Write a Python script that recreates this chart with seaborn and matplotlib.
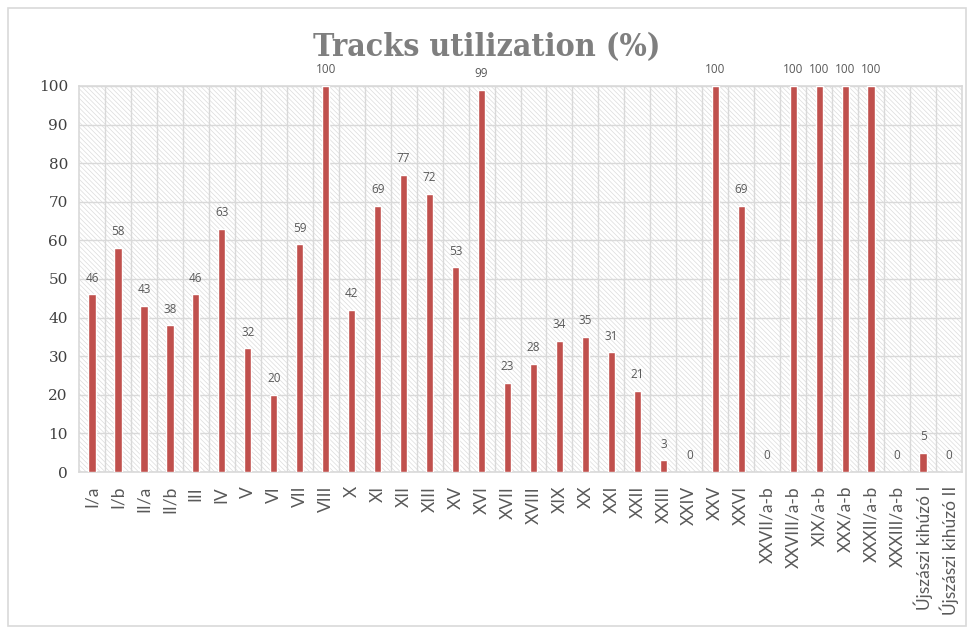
import matplotlib
matplotlib.use("Agg")
import matplotlib.pyplot as plt
import seaborn as sns
import pandas as pd
from matplotlib.patches import Rectangle

categories = ["I/a", "I/b", "II/a", "II/b", "III", "IV", "V", "VI", "VII", "VIII",
              "X", "XI", "XII", "XIII", "XV", "XVI", "XVII", "XVIII", "XIX", "XX",
              "XXI", "XXII", "XXIII", "XXIV", "XXV", "XXVI", "XXVII/a-b",
              "XXVIII/a-b", "XIX/a-b", "XXX/a-b", "XXXII/a-b", "XXXIII/a-b",
              "Újszászi kihúzó I", "Újszászi kihúzó II"]
values = [46, 58, 43, 38, 46, 63, 32, 20, 59, 100,
          42, 69, 77, 72, 53, 99, 23, 28, 34, 35,
          31, 21, 3, 0, 100, 69, 0,
          100, 100, 100, 100, 0,
          5, 0]
y_ticks = list(range(0, 101, 10))
title = "Tracks utilization (%)"

df = pd.DataFrame({"track": categories, "util": values})

sns.set_theme(style="white")
plt.rcParams["hatch.linewidth"] = 0.5
plt.rcParams["hatch.color"] = "#dcdcdc"

fig = plt.figure(figsize=(9.74, 6.29), dpi=100)
ax = fig.add_axes([0.0811, 0.2496, 0.9066, 0.6137])

# figure border
fig.patches.append(Rectangle((0.008, 0.005), 0.984, 0.982, transform=fig.transFigure,
                             fill=False, edgecolor="#d9d9d9", linewidth=1.2))

# hatched background
ax.add_patch(Rectangle((0, 0), 1, 1, transform=ax.transAxes, facecolor="white",
                       hatch="\\" * 7, edgecolor="#dcdcdc", linewidth=0, zorder=0))

sns.barplot(data=df, x="track", y="util", color="#C0504D", width=0.28,
            saturation=1, ax=ax, zorder=3)

n = len(categories)
ax.set_xlim(-0.5, n - 0.5)
ax.set_ylim(0, 100)
ax.set_yticks(y_ticks)
ax.set_xticks([i + 0.5 for i in range(n - 1)], minor=True)
ax.grid(True, axis="y", color="#d9d9d9", linewidth=1.0, zorder=1)
ax.grid(True, axis="x", which="minor", color="#d9d9d9", linewidth=1.0, zorder=1)
ax.set_axisbelow(True)
for s in ax.spines.values():
    s.set_color("#d9d9d9")
    s.set_linewidth(1.2)

ax.set_xlabel("")
ax.set_ylabel("")
ax.set_xticks(range(n))
ax.set_xticklabels(categories, rotation=90, fontsize=12.5, color="#595959",
                   fontfamily="Lato", va="top", ha="center")
ax.tick_params(axis="x", which="both", length=0, pad=10)
ax.tick_params(axis="y", length=0, pad=8)
for lbl in ax.get_yticklabels():
    lbl.set_fontfamily("DejaVu Serif")
    lbl.set_fontsize(11)
    lbl.set_color("#404040")

for i, v in enumerate(values):
    ax.annotate(f"{v}", (i, v), xytext=(0, 7), textcoords="offset points",
                ha="center", va="bottom", fontsize=8.5, color="#595959",
                fontfamily="Open Sans", annotation_clip=False)

fig.text(0.5, 0.925, title, ha="center", va="center", fontsize=23,
         fontweight="bold", color="#7f7f7f", fontfamily="DejaVu Serif",
         fontstretch="condensed")

fig.savefig("out.png", dpi=100)
